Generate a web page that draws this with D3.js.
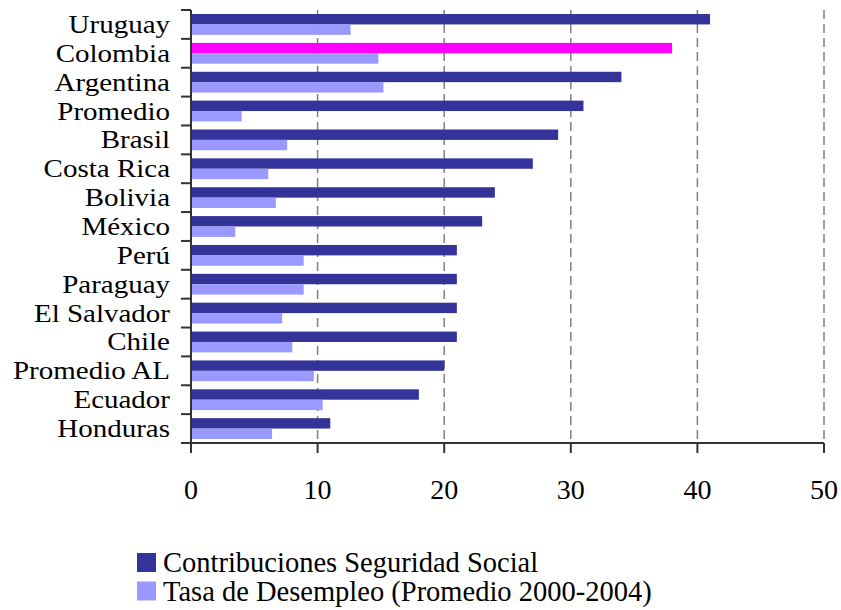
<!DOCTYPE html>
<html><head><meta charset="utf-8">
<script src="https://cdn.jsdelivr.net/npm/d3@7"></script>
<style>body{margin:0;background:#fff}svg{display:block}text{font-family:"Liberation Serif","Times New Roman",serif;fill:#000}</style>
</head><body><svg id="c" width="841" height="610"></svg>
<script>
const categories = ["Uruguay","Colombia","Argentina","Promedio","Brasil","Costa Rica","Bolivia","México","Perú","Paraguay","El Salvador","Chile","Promedio AL","Ecuador","Honduras"];
const contribuciones = [41,38,34,31,29,27,24,23,21,21,21,21,20,18,11];
const desempleo = [12.6,14.8,15.2,4.0,7.6,6.1,6.7,3.5,8.9,8.9,7.2,8.0,9.7,10.4,6.4];
const xTicks = [0,10,20,30,40,50];
const seriesNames = ["Contribuciones Seguridad Social","Tasa de Desempleo (Promedio 2000-2004)"];
const highlight = "Colombia";

const svg = d3.select("#c");
const mL = 191, mR = 824, mT = 10, mB = 443;
const x = d3.scaleLinear().domain([0,50]).range([mL,mR]);
const y = d3.scaleBand().domain(categories).range([mT,mB]).paddingInner(0).paddingOuter(0);
const bw = y.bandwidth();
const pad = bw*0.14, bh = (bw - 2*pad)/2;

// gridlines
svg.append("g").selectAll("line").data(xTicks.filter(d=>d>0)).join("line")
  .attr("x1",d=>x(d)).attr("x2",d=>x(d)).attr("y1",mT).attr("y2",mB)
  .attr("stroke","#808080").attr("stroke-width",1.5).attr("stroke-dasharray","9,5");

// bars
const g = svg.append("g");
g.selectAll("rect.a").data(categories).join("rect").attr("class","a")
  .attr("x",x(0)).attr("y",d=>y(d)+pad).attr("height",bh)
  .attr("width",(d,i)=>x(contribuciones[i])-x(0))
  .attr("fill",d=>d===highlight?"#FF00FF":"#333399");
g.selectAll("rect.b").data(categories).join("rect").attr("class","b")
  .attr("x",x(0)).attr("y",d=>y(d)+pad+bh).attr("height",bh)
  .attr("width",(d,i)=>x(desempleo[i])-x(0))
  .attr("fill","#9999FF");

// y axis
const ya = svg.append("g");
ya.append("line").attr("x1",mL).attr("x2",mL).attr("y1",mT).attr("y2",mB).attr("stroke","#333").attr("stroke-width",2);
const bounds = categories.map(c=>y(c)).concat([mB]);
ya.selectAll("line.t").data(bounds).join("line").attr("class","t")
  .attr("x1",mL-10).attr("x2",mL).attr("y1",d=>d).attr("y2",d=>d).attr("stroke","#333").attr("stroke-width",2);
ya.selectAll("text").data(categories).join("text")
  .attr("transform",d=>`translate(170,${y(d)+bw/2+8.5}) scale(1,0.86)`).attr("text-anchor","end")
  .attr("font-size",29).text(d=>d);

// x axis
const xa = svg.append("g");
xa.append("line").attr("x1",mL-10).attr("x2",mR).attr("y1",mB).attr("y2",mB).attr("stroke","#333").attr("stroke-width",2);
xa.selectAll("line.t").data(xTicks).join("line").attr("class","t")
  .attr("x1",d=>x(d)).attr("x2",d=>x(d)).attr("y1",mB).attr("y2",mB+10).attr("stroke","#333").attr("stroke-width",2);
xa.selectAll("text").data(xTicks).join("text")
  .attr("x",d=>x(d)).attr("y",499).attr("text-anchor","middle").attr("font-size",28).text(d=>d);

// legend
const colors = ["#333399","#9999FF"];
const lg = svg.append("g");
seriesNames.forEach((s,i)=>{
  lg.append("rect").attr("x",137).attr("y",553+i*28.5).attr("width",19).attr("height",19).attr("fill",colors[i]);
  lg.append("text").attr("x",163).attr("y",572+i*28.5).attr("font-size",28.5).text(s);
});
</script></body></html>
